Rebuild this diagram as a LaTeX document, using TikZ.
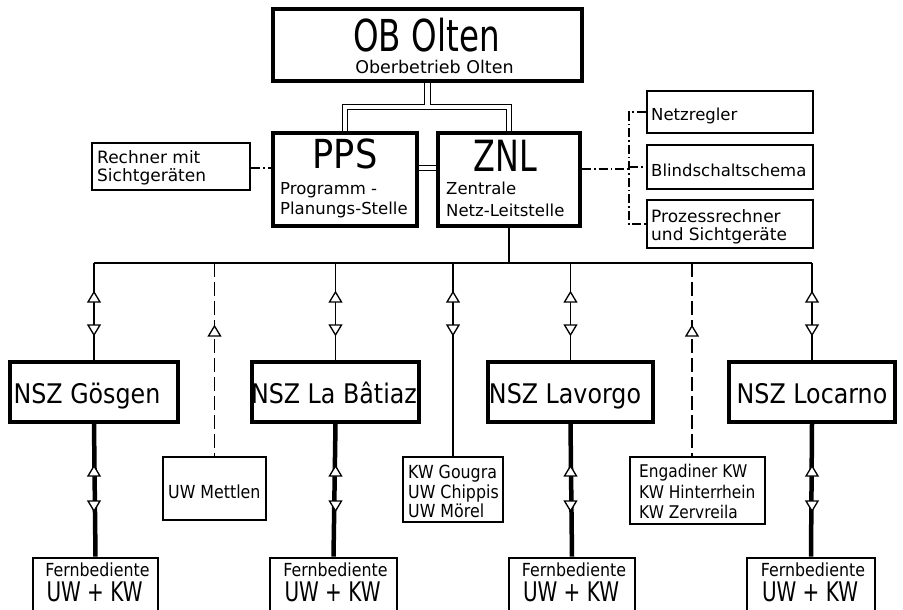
\documentclass[tikz,border=0pt]{standalone}
\usepackage{fontspec}
\setmainfont{DejaVu Sans}
\newfontfamily\fa{DejaVu Sans}
\newfontfamily\fb[FakeStretch=0.88]{DejaVu Sans}
\newfontfamily\fc[FakeStretch=0.74]{DejaVu Sans}
\usetikzlibrary{calc}
\newcommand\fsz[1]{\fontsize{#1}{#1}\selectfont}
\newcommand\tup[2]{\draw[tri] (#1 |- 0,#2) -- ++(-6,10) -- ++(12,0) -- cycle;}
\newcommand\tdn[2]{\draw[tri] (#1 |- 0,#2) -- ++(-6,-10) -- ++(12,0) -- cycle;}
\begin{document}
\begin{tikzpicture}[x=1pt,y=-1pt,
  thickbox/.style={draw, line width=4pt, inner sep=0pt},
  thinbox/.style={draw, line width=2.6pt, inner sep=0pt},
  conn/.style={line width=1.3pt},
  dbl/.style={double, double distance=4.2pt, line width=1.3pt},
  dashdot/.style={line width=1.3pt, dash pattern=on 9pt off 3pt on 1.5pt off 3pt},
  dashln/.style={line width=1.3pt, dash pattern=on 14pt off 5pt},
  heavy/.style={line width=4.5pt},
  tri/.style={draw, fill=white, line width=1.3pt, line join=miter},
  txt/.style={inner sep=0pt, anchor=base west},
  ctxt/.style={inner sep=0pt, anchor=base},
]
\useasboundingbox (0,0) rectangle (903,610);
\clip (0,0) rectangle (903,610);

% boxes
\node[thickbox, minimum width=309pt, minimum height=72pt] (ob) at (427.5,45) {};
\node[thickbox, minimum width=144pt, minimum height=93pt] (pps) at (345,179.5) {};
\node[thickbox, minimum width=142pt, minimum height=93pt] (znl) at (509,179.5) {};
\node[thinbox, minimum width=158pt, minimum height=47pt] (rech) at (171,166.5) {};
\node[thinbox, minimum width=166pt, minimum height=42pt] (netz) at (730,112) {};
\node[thinbox, minimum width=166pt, minimum height=44pt] (blind) at (730,167) {};
\node[thinbox, minimum width=166pt, minimum height=48pt] (proz) at (730,224) {};
\node[thickbox, minimum width=168pt, minimum height=60pt] (nszg) at (94,392) {};
\node[thickbox, minimum width=167pt, minimum height=60pt] (nszb) at (335.5,392) {};
\node[thickbox, minimum width=165pt, minimum height=60pt] (nszv) at (570.5,392) {};
\node[thickbox, minimum width=166pt, minimum height=60pt] (nszl) at (812,392) {};
\node[thinbox, minimum width=103pt, minimum height=63pt] (mett) at (214.5,488.5) {};
\node[thinbox, minimum width=100pt, minimum height=65pt] (goug) at (453,489.5) {};
\node[thinbox, minimum width=135pt, minimum height=67pt] (enga) at (697.5,490.5) {};
\node[thinbox, minimum width=125pt, minimum height=82pt] (fg) at (95.5,599) {};
\node[thinbox, minimum width=127pt, minimum height=82pt] (fb) at (333.5,599) {};
\node[thinbox, minimum width=126pt, minimum height=82pt] (fv) at (572,599) {};
\node[thinbox, minimum width=128pt, minimum height=82pt] (fl) at (811,599) {};

% texts
\node[ctxt, font={\fc\fsz{44}}] (tob) at (426.5,52) {OB Olten};
\node[ctxt, font={\fa\fsz{17.5}}] (tob2) at (434.5,74) {Oberbetrieb Olten};
\node[ctxt, font={\fb\fsz{40}}] (tpps) at (345,168) {PPS};
\node[txt, font={\fa\fsz{16.5}}] (tpps1) at (280,194) {Programm -};
\node[txt, font={\fa\fsz{16.5}}] (tpps2) at (280,214) {Planungs-Stelle};
\node[ctxt, font={\fc\fsz{43}}] (tznl) at (505.5,171) {ZNL};
\node[txt, font={\fa\fsz{16.5}}] (tznl1) at (446,194) {Zentrale};
\node[txt, font={\fa\fsz{16.5}}] (tznl2) at (446,216) {Netz-Leitstelle};
\node[txt, font={\fa\fsz{17}}] (trech1) at (97,163) {Rechner mit};
\node[txt, font={\fa\fsz{17}}] (trech2) at (97,181) {Sichtgeräten};
\node[txt, font={\fa\fsz{16.5}}] (tnetz) at (651,121) {Netzregler};
\node[txt, font={\fa\fsz{16.5}}] (tblind) at (651,176) {Blindschaltschema};
\node[txt, font={\fa\fsz{17}}] (tproz1) at (651,222) {Prozessrechner};
\node[txt, font={\fa\fsz{17}}] (tproz2) at (651,240) {und Sichtgeräte};
\node[ctxt, font={\fb\fsz{27}}] (tg) at (87,403) {NSZ Gösgen};
\node[ctxt, font={\fb\fsz{27}}] (tb) at (334,403) {NSZ La Bâtiaz};
\node[ctxt, font={\fb\fsz{27}}] (tv) at (565,403) {NSZ Lavorgo};
\node[ctxt, font={\fb\fsz{27}}] (tl) at (812,403) {NSZ Locarno};
\node[txt, font={\fb\fsz{18}}] (tmett) at (168,498) {UW Mettlen};
\node[txt, font={\fb\fsz{18}}] (tgou1) at (408,478) {KW Gougra};
\node[txt, font={\fb\fsz{18}}] (tgou2) at (408,498) {UW Chippis};
\node[txt, font={\fb\fsz{18}}] (tgou3) at (408,517) {UW Mörel};
\node[txt, font={\fb\fsz{17.5}}] (teng1) at (639,477) {Engadiner KW};
\node[txt, font={\fb\fsz{17.5}}] (teng2) at (639,498) {KW Hinterrhein};
\node[txt, font={\fb\fsz{17.5}}] (teng3) at (639,518) {KW Zervreila};
\foreach \b in {fg,fb,fv,fl}{
  \node[ctxt, font={\fb\fsz{18}}] (\b1) at ($(\b.north)+(2,20)$) {Fernbediente};
  \node[ctxt, font={\fc\fsz{27}}] (\b2) at ($(\b.north)+(-1,45)$) {UW + KW};
}

% double connectors
\coordinate (j) at (427.5,107);
\draw[dbl] (pps.north) |- (j) -| (znl.north);
\draw[dbl] (ob.south) -- ($(j)+(0,-1.6)$);
\coordinate (h) at (0,168);
\draw[dbl] (pps.east |- h) -- (znl.west |- h);

% dash-dot side links
\draw[dashdot] (rech.east |- h) -- (pps.west |- h);
\coordinate (br) at (629,0);
\draw[dashdot] (znl.east |- 0,169) -- (br |- 0,169);
\draw[dashdot] (netz.west) -| (br |- proz.west) -- (proz.west);
\draw[dashdot] (br |- blind.west) -- (blind.west);

% bus
\coordinate (bus) at (0,263);
\draw[conn] (znl.south) -- (znl.south |- bus);
\draw[conn] (nszg.north |- bus) -- (nszl.north |- bus);
\coordinate (eb) at (692,0);
\foreach \n in {nszg,nszb,goug,nszv,nszl}{
  \draw[conn] (\n.north |- bus) -- (\n.north);
  \tup{\n.north}{292}
  \tdn{\n.north}{335}
}
\draw[dashln] (mett.north |- bus) -- (mett.north);
\tup{mett.north}{326}
\draw[dashln] (eb |- bus) -- (eb |- enga.north);
\tup{eb}{326}

% heavy links
\foreach \a/\b in {nszg/fg,nszb/fb,nszv/fv,nszl/fl}{
  \draw[heavy] (\a.south) -- (\b.north);
  \draw[tri] (\a.south |- 0,466) -- ++(-6,10) -- ++(12,0) -- cycle;
  \draw[tri] (\a.south |- 0,511) -- ++(-6,-10) -- ++(12,0) -- cycle;
}
\end{tikzpicture}
\end{document}
